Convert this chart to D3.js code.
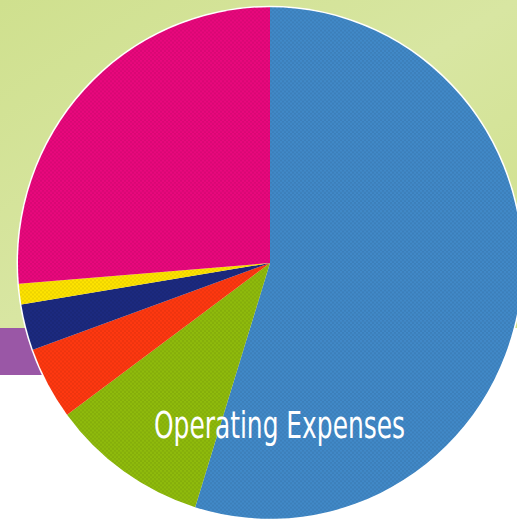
<!DOCTYPE html>
<html lang="en">
<head>
  <meta charset="UTF-8">
  <title>Operating Expenses</title>
  <script src="https://d3js.org/d3.v7.min.js"></script>
  <style>
    body { margin: 0; background: #fff; }
  </style>
</head>
<body>
  <div id="chart"></div>

  <script type="text/javascript">

  // slice data, clockwise from 12 o'clock
  var categories = ["Operating Expenses", "Slice 2", "Slice 3", "Slice 4", "Slice 5", "Slice 6"];
  var values = [54.8, 10.1, 4.6, 2.9, 1.3, 26.3];
  var colors = ["#4189c8", "#8fbb0c", "#ff3810", "#1c2a80", "#ffe400", "#e9087d"];
  var label = "Operating Expenses";

  var w = 517;
  var h = 522;
  var cx = 270, cy = 263;
  var radius = 252;

  var svg = d3.select("#chart")
    .append("svg")
    .attr("width", w)
    .attr("height", h);

  var defs = svg.append("defs");

  // soft green background
  var bg = defs.append("linearGradient")
    .attr("id", "bg")
    .attr("x1", 0).attr("y1", 0).attr("x2", 1).attr("y2", 1);
  bg.append("stop").attr("offset", "0%").attr("stop-color", "#cfe08e");
  bg.append("stop").attr("offset", "50%").attr("stop-color", "#d8e6a2");
  bg.append("stop").attr("offset", "100%").attr("stop-color", "#cfe08a");

  // halftone-ish dot texture
  var pat = defs.append("pattern")
    .attr("id", "dots")
    .attr("width", 4).attr("height", 4)
    .attr("patternUnits", "userSpaceOnUse");
  pat.append("rect").attr("x", 0).attr("y", 0).attr("width", 2).attr("height", 2)
    .attr("fill", "#000").attr("opacity", 0.07);
  pat.append("rect").attr("x", 2).attr("y", 2).attr("width", 2).attr("height", 2)
    .attr("fill", "#000").attr("opacity", 0.07);

  svg.append("rect")
    .attr("width", w).attr("height", 328)
    .attr("fill", "url(#bg)");

  svg.append("rect")
    .attr("x", 0).attr("y", 328)
    .attr("width", 160).attr("height", 47)
    .attr("fill", "#9a57a6");

  var pie = d3.pie().sort(null);

  var arc = d3.arc()
    .innerRadius(0)
    .outerRadius(radius);

  var g = svg.append("g")
    .attr("transform", "translate(" + cx + "," + cy + ") scale(1,1.015)");

  g.append("circle")
    .attr("r", radius + 1.5)
    .attr("fill", "#fff");

  var arcs = g.selectAll("g.arc")
    .data(pie(values))
    .enter()
    .append("g")
    .attr("class", "arc");

  arcs.append("path")
    .attr("fill", (d, i) => colors[i])
    .attr("d", arc);

  arcs.append("path")
    .attr("fill", "url(#dots)")
    .attr("d", arc);

  svg.append("text")
    .attr("x", 154)
    .attr("y", 438)
    .attr("textLength", 251)
    .attr("lengthAdjust", "spacingAndGlyphs")
    .attr("fill", "#fff")
    .style("font-family", "'Liberation Sans Narrow', 'DejaVu Sans Condensed', sans-serif")
    .style("font-size", "38px")
    .text(label);

  </script>
</body>
</html>
